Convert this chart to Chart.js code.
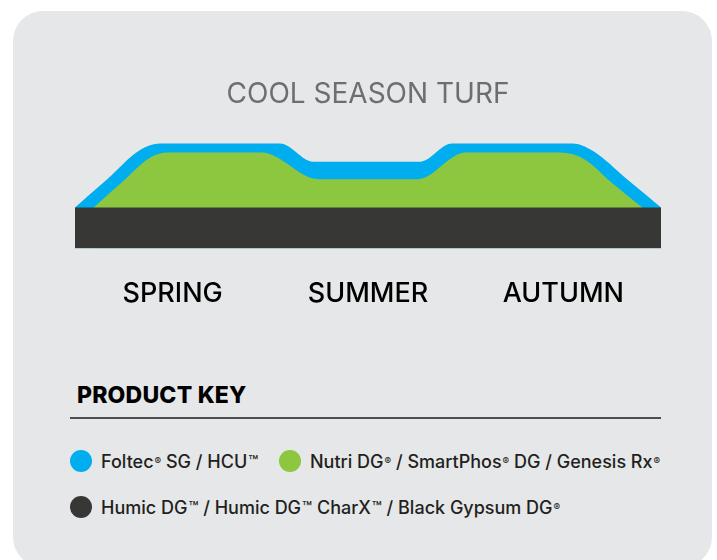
<!DOCTYPE html>
<html>
<head>
<meta charset="utf-8">
<script src="https://cdn.jsdelivr.net/npm/chart.js@4"></script>
<style>
  body { margin: 0; background: #fff; width: 717px; height: 560px; overflow: hidden; position: relative; font-family: Inter, sans-serif; }
  .card { position: absolute; left: 13px; top: 11px; width: 699px; height: 556px; border-radius: 30px; background: #e6e7e8; }
  #wrap { position: absolute; left: 0; top: 0; width: 717px; height: 339px; }
  .key { position: absolute; left: 77px; top: 381px; font-size: 23px; font-weight: 800; color: #000; letter-spacing: 0.2px; }
  .rule { position: absolute; left: 70px; top: 417px; width: 591px; height: 2px; background: #4d4d4f; }
  .item { position: absolute; display: flex; align-items: center; font-size: 18px; font-weight: 500; color: #231f20; white-space: nowrap; }
  .dot { width: 22px; height: 22px; border-radius: 50%; margin-right: 9px; }
  sup { font-size: 0.55em; vertical-align: 0.7em; line-height: 0; margin-left: 1px; }
  .tm { font-size: 0.9em; margin-left: 1px; }
</style>
</head>
<body>
<div class="card"></div>
<div id="wrap"><canvas id="chart" width="717" height="339"></canvas></div>

<div class="key">PRODUCT KEY</div>
<div class="rule"></div>
<div class="item" style="left:70px; top:450px;"><span class="dot" style="background:#00aeef"></span>Foltec<sup>®</sup>&nbsp;SG / HCU<span class="tm">™</span></div>
<div class="item" style="left:279px; top:450px;"><span class="dot" style="background:#8dc63f"></span>Nutri DG<sup>®</sup>&nbsp;/ SmartPhos<sup>®</sup>&nbsp;DG / Genesis Rx<sup>®</sup></div>
<div class="item" style="left:70px; top:496px;"><span class="dot" style="background:#373736"></span>Humic DG<span class="tm">™</span>&nbsp;/ Humic DG<span class="tm">™</span>&nbsp;CharX<span class="tm">™</span>&nbsp;/ Black Gypsum DG<sup>®</sup></div>

<script>
const seasons = ["SPRING", "SUMMER", "AUTUMN"];

// position through the season (0-100) and relative response level
const soilX = [0, 100];
const soilY = [41, 41];

const nutriX = [3.2, 8.0, 12.8, 15.9, 31.9, 41.5, 58.5, 66.6, 82.8, 86.9, 91.8, 96.8];
const nutriY = [41, 66, 90.5, 95.5, 95.5, 69, 69, 95.5, 95.5, 89, 64.5, 41];

const foliarX = [0, 5.5, 11.1, 14.5, 35.0, 40.6, 58.9, 64.3, 84.9, 88.4, 94.2, 100];
const foliarY = [41, 69, 98, 104.5, 104.5, 86.5, 86.5, 104.5, 104.5, 97, 69, 41];

const pts = (xs, ys) => xs.map((x, i) => ({ x: x, y: ys[i] }));

new Chart(document.getElementById("chart"), {
  type: "line",
  data: {
    datasets: [
      {
        label: "Humic DG / Humic DG CharX / Black Gypsum DG",
        data: pts(soilX, soilY),
        backgroundColor: "#373736",
        fill: "origin",
        order: 1
      },
      {
        label: "Nutri DG / SmartPhos DG / Genesis Rx",
        data: pts(nutriX, nutriY),
        backgroundColor: "#8dc63f",
        fill: "origin",
        order: 2
      },
      {
        label: "Foltec SG / HCU",
        data: pts(foliarX, foliarY),
        backgroundColor: "#00aeef",
        fill: "origin",
        order: 3
      }
    ]
  },
  options: {
    responsive: false,
    animation: false,
    devicePixelRatio: 1,
    layout: { padding: { left: 75, right: 56, top: 0, bottom: 0 } },
    elements: {
      line: { borderWidth: 0, cubicInterpolationMode: "monotone" },
      point: { radius: 0, hoverRadius: 0 }
    },
    plugins: {
      legend: { display: false },
      tooltip: { enabled: false },
      title: {
        display: true,
        text: "COOL SEASON TURF",
        color: "#6d6e71",
        font: { family: "Inter", size: 28, weight: "normal" },
        padding: { top: 77.8, bottom: 18.6 }
      }
    },
    scales: {
      x: { type: "linear", min: 0, max: 100, display: false },
      y: { min: 0, max: 118, display: false },
      season: {
        type: "category",
        labels: seasons,
        offset: true,
        position: "bottom",
        grid: { display: false, drawTicks: false },
        border: { display: false },
        ticks: {
          color: "#000",
          padding: 29,
          maxRotation: 0,
          font: { family: "Inter", size: 27, weight: "500" }
        }
      }
    }
  }
});
</script>
</body>
</html>
